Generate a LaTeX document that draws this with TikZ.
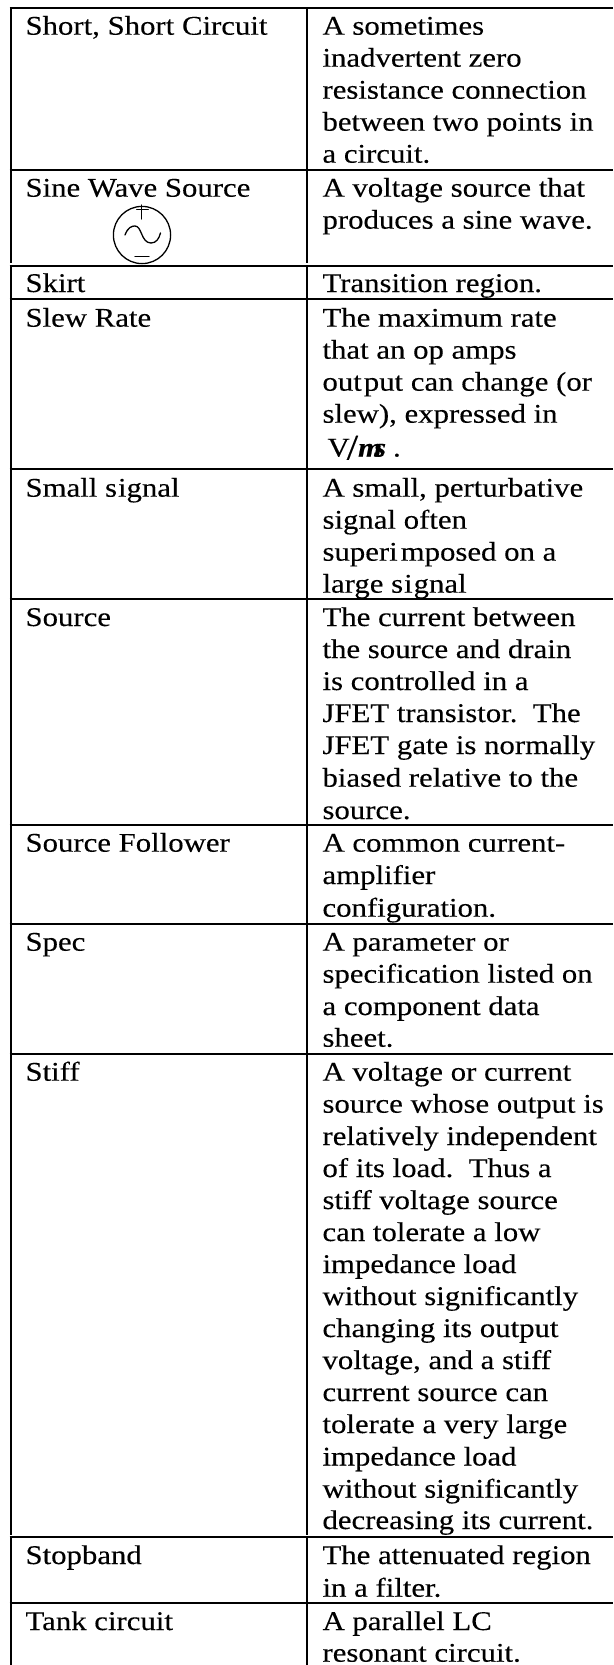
\documentclass[tikz,border=0pt]{standalone}
\usepackage{fontspec}
\setmainfont[FakeStretch=1.14,FakeBold=0.25]{Liberation Serif}
\begin{document}
\begin{tikzpicture}[x=1pt,y=-1pt,
  term/.style={anchor=base west,inner sep=0pt,outer sep=0pt,font=\fontsize{27}{32}\selectfont,text=black},
  gridline/.style={line width=2pt,black},
  symbolline/.style={line width=1.3pt,black,line cap=round,line join=round}]
\useasboundingbox (0,0) rectangle (613,1665);
\fill[white] (0,0) rectangle (613,1665);
% grid
\draw[gridline] (9.7,8)--(613,8);
\foreach \y in {169.5,265.7,299,469.3,599,825,924,1054,1537.3,1603.3}
  \draw[gridline] (9.7,\y)--(613,\y);
\foreach \x in {10.7,306.7}{
  \draw[gridline] (\x,8)--(\x,262.8);
  \draw[gridline] (\x,265.7)--(\x,1535);
  \draw[gridline] (\x,1537.3)--(\x,1665);
}
% left column
\foreach \y/\t [count=\i] in {
34.7/{Short, Short Circuit},
196.7/{Sine Wave Source},
292/{Skirt},
326.7/{Slew Rate},
496.7/{Small s\kern1pt ignal},
626/{Source},
851.7/{Source Follower},
950.7/{Spec},
1080.7/{Stiff},
1564/{Stopband},
1630/{Tank circuit}}
  \node[term] (l\i) at (25.5,\y) {\t};
% right column
\foreach \y/\t [count=\i] in {
34.7/{A sometimes},
66.7/{inadvertent zero},
98.7/{resistance connection},
130.7/{between two points in},
162.7/{a circuit.},
196.7/{A voltage source that},
228.7/{produces a sine wave.},
292/{Transition region.},
326.7/{The maximum rate},
358.7/{that an op amps},
390.7/{out\kern2pt put can change (or},
422.7/{slew), expressed in},
496.7/{A small, perturbative},
528.7/{signal often},
560.7/{superi\kern3pt mposed on a},
592.7/{large s\kern1pt i\kern1pt gnal},
626/{The current between},
658/{the source and drain},
690/{is controlled in a},
722/{JFET transistor.\ \ The},
754/{JFET gate is normally},
786.7/{biased relative to the},
819/{source.},
851.7/{A common current-},
884/{amplifier},
916.7/{configuration.},
950.7/{A parameter or},
982.7/{specification listed on},
1015/{a component data},
1046.7/{sheet.},
1080.7/{A voltage or current},
1112.7/{source whose output is},
1145/{relatively independent},
1177/{of its load.\ \ Thus a},
1209/{stiff voltage source},
1241/{can tolerate a low},
1273/{impedance load},
1305/{without significantly},
1337/{changing its output},
1369/{voltage, and a stiff},
1401/{current source can},
1433/{tolerate a very large},
1465.5/{impedance load},
1497.7/{without significantly},
1529/{decreasing its current.},
1564/{The attenuated region},
1596.7/{in a filter.},
1630/{A parallel LC},
1661.7/{resonant circuit.}}
  \node[term] (r\i) at (322.5,\y) {\t};
\node[term] (units) at (327.5,456.5) {V\kern-3pt{\fontsize{36}{36}\selectfont\raisebox{-3pt}{/}}{\bfseries\itshape m\kern-8pt s}\kern7pt.};
% sine source symbol
\draw[symbolline] (142,235) ellipse [x radius=28.6,y radius=28.6];
\draw[symbolline] (141.7,205)--(141.7,219);
\draw[symbolline] (136.7,209.5)--(148.3,209.5);
\draw[symbolline] (135,256.7)--(149,256.7);
\draw[symbolline] (125,235) .. controls (128,227) and (132,226) .. (135,226)
  .. controls (142,226) and (141,243) .. (151,243)
  .. controls (156,243) and (159,239) .. (160.5,233);
\end{tikzpicture}
\end{document}
